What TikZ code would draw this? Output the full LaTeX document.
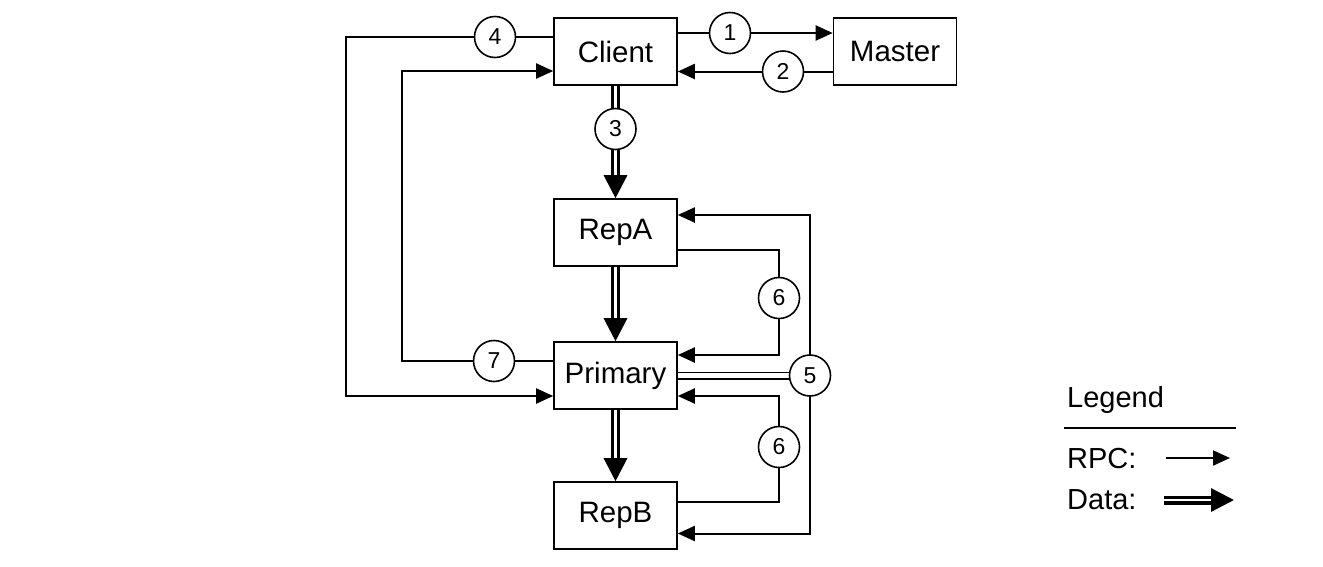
\documentclass[tikz,border=0pt]{standalone}
\usepackage{fontspec}
\setmainfont{Liberation Sans}
\usetikzlibrary{arrows.meta}
\pgfdeclarelayer{bg}
\pgfsetlayers{bg,main}
\begin{document}
\begin{tikzpicture}[x=1pt,y=-1pt,
 box/.style={draw,fill=white,line width=1.6pt,minimum width=123pt,minimum height=67pt,inner sep=0pt,font=\fontsize{29.5}{34}\selectfont},
 num/.style={draw,circle,fill=white,line width=1.6pt,minimum size=41pt,inner sep=0pt,font=\fontsize{23}{26}\selectfont},
 rpc/.style={line width=2pt,-{Triangle[length=17pt,width=15pt]}},
 wire/.style={line width=2pt},
 data/.style={line width=3.2pt,double=white,double distance=2.6pt,-{Triangle[length=23pt,width=23pt]}},
 link/.style={line width=1.5pt,double=white,double distance=5pt},
 lab/.style={anchor=base west,inner sep=0pt,font=\fontsize{29}{34}\selectfont}]
\useasboundingbox (0,0) rectangle (1323,566);
% boxes
\node[box] (client)  at (615.5,51.5)  {Client};
\node[box] (master)  at (895,51.5)    {Master};
\node[box] (repA)    at (615.5,232.5) {RepA};
\node[box] (primary) at (615.5,375.5) {Primary};
\node[box] (repB)    at (615.5,515.5) {RepB};
% numbers
\node[num] (c1) at (730,33) {1};
\node[num] (c2) at (783,71.5) {2};
\node[num] (c3) at (615.5,129) {3};
\node[num] (c4) at (495,37) {4};
\node[num] (c5) at (810,375.5) {5};
\node[num] (c6a) at (779,298) {6};
\node[num] (c6b) at (779,447) {6};
\node[num] (c7) at (494,361) {7};
\coordinate (l4) at (346,37);
\coordinate (l7) at (402,361);
% legend
\node[lab] (leg) at (1067,407) {Legend};
\coordinate (lg1) at (1064,428);
\coordinate (lg2) at (1236,428);
\node[lab] (rpcl) at (1067,468) {RPC:};
\coordinate (ra) at (1166,458);
\coordinate (rb) at (1230,458);
\node[lab] (datal) at (1067,509) {Data:};
\coordinate (da) at (1164,500);
\coordinate (db) at (1234,500);
\begin{pgfonlayer}{bg}
\draw[rpc] (client.east |- c1) -- (master.west |- c1);
\draw[rpc] (master.west |- c2) -- (client.east |- c2);
\draw[data] (client.south) -- (repA.north);
\draw[data] (repA.south) -- (primary.north);
\draw[data] (primary.south) -- (repB.north);
\draw[rpc] (client.west |- c4) -- (l4) |- ([yshift=-20.5pt]primary.west);
\draw[rpc] (primary.west |- c7) -- (l7) |- ([yshift=-19.5pt]client.west);
\draw[rpc] ([yshift=-17.5pt]repA.east) -| (c6a.center) |- ([yshift=20.5pt]primary.east);
\draw[rpc] ([yshift=13.5pt]repB.east) -| (c6b.center) |- ([yshift=-20.5pt]primary.east);
\draw[rpc] (c5.center) |- ([yshift=17.5pt]repA.east);
\draw[rpc] (c5.center) |- ([yshift=-18pt]repB.east);
\draw[link] (primary.east) -- (c5.center);
\draw[wire] (lg1) -- (lg2);
\draw[rpc] (ra) -- (rb);
\draw[data] (da) -- (db);
\end{pgfonlayer}
\end{tikzpicture}
\end{document}
